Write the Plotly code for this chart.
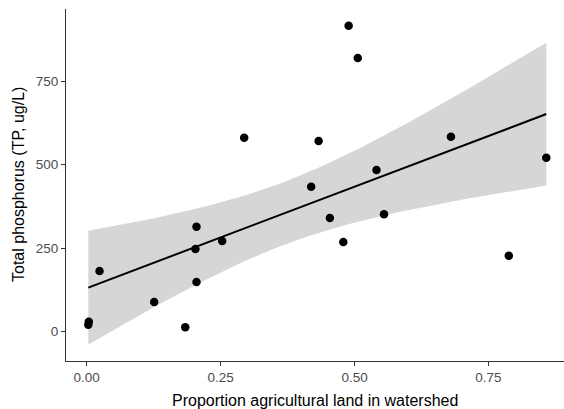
import numpy as np
import plotly.graph_objects as go

# Data
ag_prop = [0.489, 0.506, 0.294, 0.433, 0.680, 0.858, 0.541, 0.419, 0.454, 0.555,
           0.479, 0.788, 0.205, 0.203, 0.253, 0.024, 0.205, 0.126, 0.184, 0.003, 0.004]
tp = [917, 820, 581, 571, 584, 521, 484, 434, 340, 351,
      268, 227, 314, 247, 271, 181, 148, 88, 12, 20, 29]

x_ticks = [0.0, 0.25, 0.5, 0.75]
x_tick_labels = ["0.00", "0.25", "0.50", "0.75"]
y_ticks = [0, 250, 500, 750]
y_tick_labels = ["0", "250", "500", "750"]

x_title = "Proportion agricultural land in watershed"
y_title = "Total phosphorus (TP, ug/L)"

# Linear model with 95% confidence band (like ggplot geom_smooth(method="lm"))
x = np.array(ag_prop, dtype=float)
y = np.array(tp, dtype=float)
n = len(x)
b1, b0 = np.polyfit(x, y, 1)
resid = y - (b0 + b1 * x)
s = np.sqrt(np.sum(resid ** 2) / (n - 2))
t_crit = 2.093  # t(0.975, df=19)
xs = np.linspace(x.min(), x.max(), 80)
ys = b0 + b1 * xs
se = s * np.sqrt(1.0 / n + (xs - x.mean()) ** 2 / np.sum((x - x.mean()) ** 2))
upper = ys + t_crit * se
lower = ys - t_crit * se

FONT = "Liberation Sans, Arial, sans-serif"

fig = go.Figure()
fig.add_trace(go.Scatter(
    x=np.concatenate([xs, xs[::-1]]), y=np.concatenate([upper, lower[::-1]]),
    fill="toself", fillcolor="rgba(153,153,153,0.4)", line=dict(width=0),
    mode="lines", hoverinfo="skip", showlegend=False))
fig.add_trace(go.Scatter(x=x, y=y, mode="markers",
                         marker=dict(color="black", size=8.5), showlegend=False))
fig.add_trace(go.Scatter(x=xs, y=ys, mode="lines",
                         line=dict(color="black", width=2), showlegend=False))

axis_common = dict(
    showgrid=False, zeroline=False, showline=True, linecolor="#333333", linewidth=1.1,
    ticks="outside", ticklen=4, tickcolor="#333333", tickwidth=1.1, automargin=False,
    tickfont=dict(family=FONT, size=13.5, color="#4D4D4D"),
)
fig.update_layout(
    width=564, height=409,
    margin=dict(l=66, r=0, t=9, b=48),
    paper_bgcolor="white", plot_bgcolor="white",
    xaxis=dict(range=[-0.0386, 0.891], tickvals=x_ticks, ticktext=x_tick_labels, **axis_common),
    yaxis=dict(range=[-89, 967], tickvals=y_ticks, ticktext=y_tick_labels, **axis_common),
    annotations=[
        dict(text=x_title, xref="paper", yref="paper", x=0.5, y=0, xanchor="center",
             yanchor="middle", yshift=-39, showarrow=False,
             font=dict(family=FONT, size=16, color="black")),
        dict(text=y_title, xref="paper", yref="paper", x=0, y=0.5, xanchor="center",
             yanchor="middle", xshift=-48, textangle=-90, showarrow=False,
             font=dict(family=FONT, size=16, color="black")),
    ],
)
fig.write_html("out.html", config={"displayModeBar": False},
               post_script="document.body.style.margin='0';")
